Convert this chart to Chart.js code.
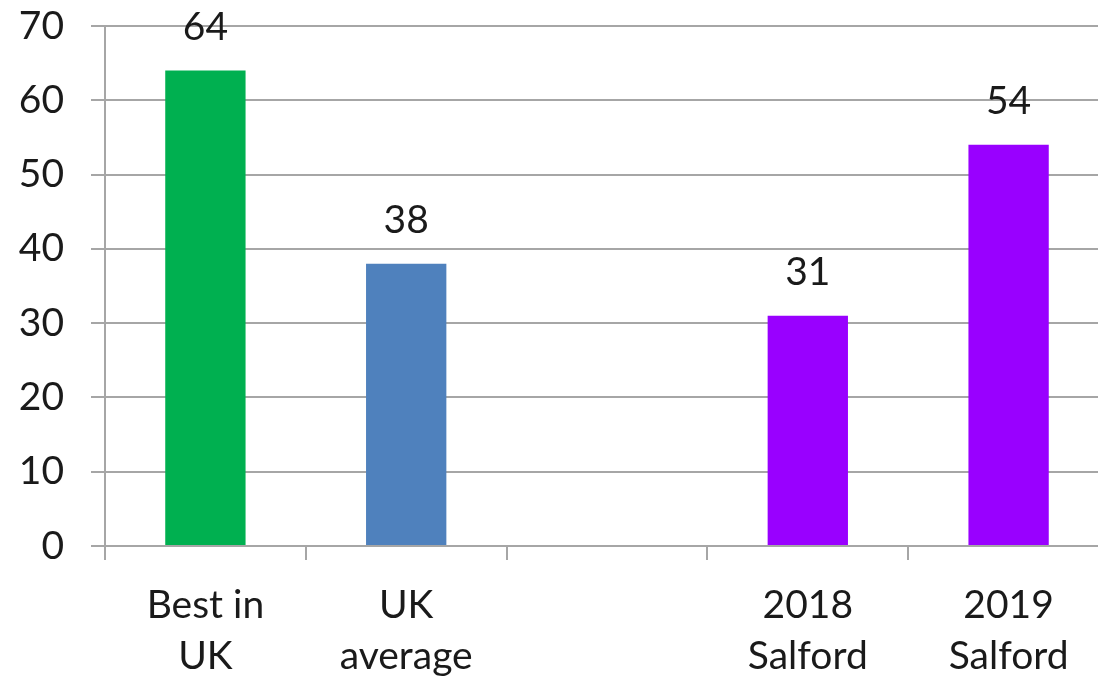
<!DOCTYPE html>
<html><head><meta charset="utf-8">
<script src="https://cdn.jsdelivr.net/npm/chart.js@4"></script>
<style>html,body{margin:0;padding:0;overflow:hidden;background:#fff}#wrap{position:relative;width:1120px;height:679px}</style>
</head><body><div id="wrap"><canvas id="c"></canvas></div>
<script>
const categories = [["Best in","UK"],["UK","average"],"",["2018","Salford"],["2019","Salford"]];
const values = [64, 38, null, 31, 54];
const barColors = ["#00B050", "#4F81BD", "#9900FF", "#9900FF", "#9900FF"];
const yTicks = [0,10,20,30,40,50,60,70];

const FONT = "Lato";
const labelPlugin = {
  id: 'valueLabels',
  afterDatasetsDraw(chart) {
    const ctx = chart.ctx;
    const meta = chart.getDatasetMeta(0);
    ctx.save();
    ctx.font = "39px " + FONT;
    ctx.fillStyle = "#1a1a1a";
    ctx.textAlign = "center";
    ctx.textBaseline = "alphabetic";
    meta.data.forEach((el, i) => {
      const v = values[i];
      if (v === null || v === undefined) return;
      ctx.fillText(String(v), el.x, el.y - 31);
    });
    ctx.restore();
  }
};

new Chart(document.getElementById('c'), {
  type: 'bar',
  data: {
    labels: categories,
    datasets: [{ data: values, backgroundColor: barColors, borderWidth: 0,
      barPercentage: 0.8, categoryPercentage: 0.5 }]
  },
  options: {
    responsive: true, maintainAspectRatio: false, animation: false,
    layout: { padding: { top: 0, right: 11, left: 0, bottom: 0 } },
    plugins: { legend: { display: false }, tooltip: { enabled: false } },
    scales: {
      x: {
        offset: true,
        grid: { offset: true, drawOnChartArea: false, drawTicks: true, tickLength: 14, color: "#A6A6A6", lineWidth: 2 },
        border: { display: true, color: "#A6A6A6", width: 2 },
        ticks: { color: "#1a1a1a", font: { family: FONT, size: 39, lineHeight: 1.3 }, padding: 20, maxRotation: 0, autoSkip: false },
        afterFit(s) { s.height = 133; }
      },
      y: {
        min: 0, max: 70,
        afterBuildTicks(s) { s.ticks = yTicks.map(v => ({ value: v })); },
        grid: { color: "#A6A6A6", lineWidth: 2, tickLength: 14 },
        border: { display: true, color: "#A6A6A6", width: 2 },
        ticks: { color: "#1a1a1a", font: { family: FONT, size: 39 }, padding: 27 },
        afterFit(s) { s.width = 105; s.paddingTop = 26; s.paddingBottom = 0; }
      }
    }
  },
  plugins: [labelPlugin]
});
</script></body></html>
